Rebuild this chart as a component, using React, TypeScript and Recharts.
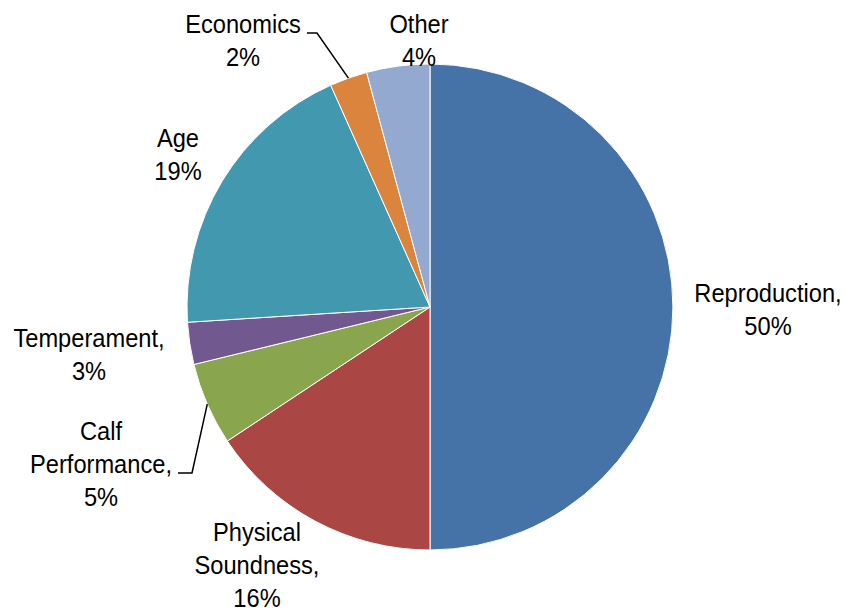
import React from 'react';
import { PieChart, Pie, Cell } from 'recharts';

const categories = ['Reproduction', 'Physical Soundness', 'Calf Performance', 'Temperament', 'Age', 'Economics', 'Other'];
const shares = [50, 15.7, 5.5, 2.8, 19.3, 2.5, 4.2];
const shareLabels = ['50%', '16%', '5%', '3%', '19%', '2%', '4%'];

const colors = ['#4572A7', '#AA4643', '#89A54E', '#71588F', '#4198AF', '#DB843D', '#93A9CF'];

// label text lines, first-baseline offset from pie centre, and optional leader line elbow
const labelLayout: Array<{ lines: string[]; dx: number; dy: number; leader?: [number, number, number] }> = [
  { lines: ['Reproduction,', '50%'], dx: 338, dy: -5 },
  { lines: ['Physical', 'Soundness,', '16%'], dx: -173, dy: 234 },
  { lines: ['Calf', 'Performance,', '5%'], dx: -329, dy: 133, leader: [-252, -238, 166] },
  { lines: ['Temperament,', '3%'], dx: -341, dy: 40 },
  { lines: ['Age', '19%'], dx: -252, dy: -160 },
  { lines: ['Economics', '2%'], dx: -187, dy: -274, leader: [-123, -113, -274] },
  { lines: ['Other', '4%'], dx: -11, dy: -274 },
];

const data = categories.map((name, i) => ({ name, value: shares[i], pct: shareLabels[i] }));

const RAD = Math.PI / 180;
const LINE_H = 33;
// the source font is a bit condensed
const SQUEEZE = 0.91;

const renderLabel = (props: any) => {
  const { cx, cy, midAngle, outerRadius, index } = props;
  const lay = labelLayout[index];
  const x = cx + lay.dx;
  const y = cy + lay.dy;
  let leader = null;
  if (lay.leader) {
    const ex = cx + outerRadius * Math.cos(-midAngle * RAD);
    const ey = cy + outerRadius * Math.sin(-midAngle * RAD);
    const [x1, x2, ly] = lay.leader;
    leader = (
      <polyline
        points={`${cx + x1},${cy + ly} ${cx + x2},${cy + ly} ${ex},${ey}`}
        fill="none"
        stroke="#000"
        strokeWidth={1.5}
      />
    );
  }
  return (
    <g key={`lbl-${index}`}>
      {leader}
      <g transform={`translate(${x},0) scale(${SQUEEZE},1) translate(${-x},0)`}>
        <text
          x={x}
          y={y}
          textAnchor="middle"
          fill="#000"
          fontSize={26}
          fontFamily="'Liberation Sans', Arial, sans-serif"
        >
          {lay.lines.map((l, j) => (
            <tspan key={j} x={x} y={y + j * LINE_H}>
              {l}
            </tspan>
          ))}
        </text>
      </g>
    </g>
  );
};

const App: React.FC = () => {
  return (
    <div style={{ width: 842, height: 607, background: '#fff' }}>
      <PieChart width={842} height={607} margin={{ top: 0, right: 0, bottom: 0, left: 0 }}>
        <Pie
          data={data}
          dataKey="value"
          nameKey="name"
          cx={422}
          cy={299}
          outerRadius={243}
          startAngle={90}
          endAngle={-270}
          stroke="#fff"
          strokeWidth={1}
          label={renderLabel}
          labelLine={false}
          isAnimationActive={false}
        >
          {data.map((d, i) => (
            <Cell key={d.name} fill={colors[i]} />
          ))}
        </Pie>
      </PieChart>
    </div>
  );
};

export default App;
